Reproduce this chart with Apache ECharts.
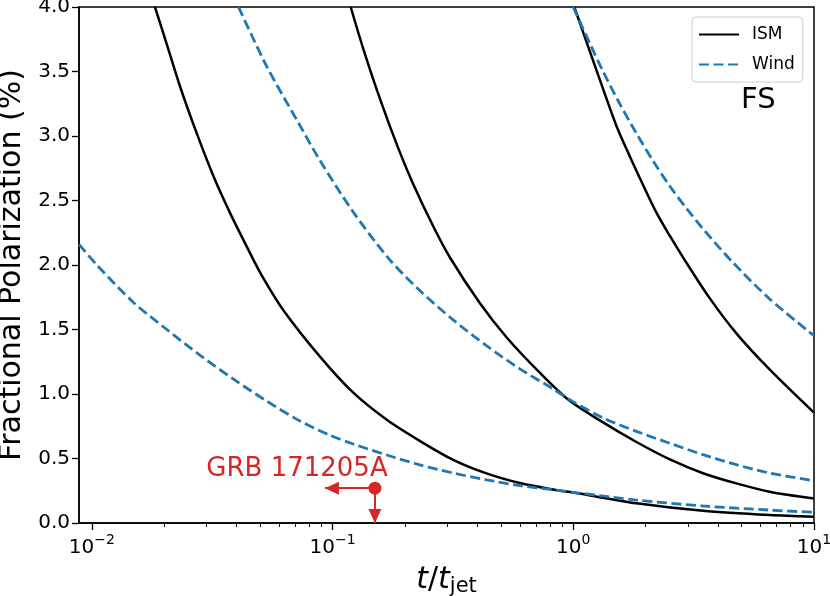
<!DOCTYPE html>
<html>
<head>
<meta charset="utf-8">
<script src="https://cdn.jsdelivr.net/npm/echarts@6/dist/echarts.min.js"></script>
<style>
html, body { margin: 0; padding: 0; background: #fff; }
#chart { width: 830px; height: 596px; }
</style>
</head>
<body>
<div id="chart"></div>
<script>
// curves: [t/t_jet, polarization %]
var ism1 = [[0.0183, 4.0], [0.0205, 3.71], [0.0233, 3.38], [0.0273, 3.02], [0.0320, 2.69],
    [0.0376, 2.40], [0.0441, 2.14], [0.0508, 1.92], [0.0625, 1.65], [0.0887, 1.29],
    [0.122, 1.01], [0.168, 0.80], [0.231, 0.635], [0.317, 0.49], [0.436, 0.385],
    [0.600, 0.31], [0.824, 0.26], [1.06, 0.228], [1.83, 0.153], [3.46, 0.095],
    [6.54, 0.062], [10, 0.049]];
var ism2 = [[0.119, 4.0], [0.134, 3.68], [0.158, 3.28], [0.188, 2.90], [0.216, 2.63],
    [0.262, 2.30], [0.307, 2.06], [0.409, 1.705], [0.528, 1.44], [0.726, 1.165],
    [0.967, 0.947], [1.33, 0.78], [1.83, 0.628], [2.52, 0.493], [3.46, 0.386],
    [4.76, 0.307], [6.54, 0.243], [10, 0.19]];
var ism3 = [[1.01, 4.0], [1.17, 3.66], [1.33, 3.365], [1.51, 3.08], [1.72, 2.84],
    [1.95, 2.62], [2.21, 2.41], [2.52, 2.225], [2.90, 2.04], [3.68, 1.745],
    [4.76, 1.47], [6.54, 1.19], [10, 0.855]];
var wind1 = [[0.00885, 2.16], [0.0105, 2.0], [0.0149, 1.71], [0.0205, 1.50], [0.0282, 1.30],
    [0.0388, 1.115], [0.0533, 0.945], [0.0733, 0.79], [0.0976, 0.68], [0.122, 0.612],
    [0.168, 0.527], [0.231, 0.45], [0.317, 0.387], [0.436, 0.335], [0.600, 0.29],
    [0.824, 0.257], [1.06, 0.232], [1.83, 0.178], [3.46, 0.132], [6.54, 0.10], [10, 0.083]];
var wind2 = [[0.0407, 4.0], [0.0533, 3.54], [0.0733, 3.08], [0.0887, 2.81], [0.122, 2.41],
    [0.173, 2.04], [0.231, 1.80], [0.317, 1.575], [0.436, 1.375], [0.600, 1.195],
    [0.824, 1.04], [0.967, 0.955], [1.33, 0.815], [1.83, 0.71], [2.52, 0.618],
    [3.46, 0.53], [4.76, 0.452], [6.54, 0.387], [10, 0.328]];
var wind3 = [[1.0, 4.0], [1.17, 3.72], [1.33, 3.50], [1.56, 3.25], [1.83, 3.02],
    [2.14, 2.81], [2.52, 2.61], [2.95, 2.44], [3.46, 2.28], [4.60, 2.02],
    [6.54, 1.737], [10, 1.452]];

// GRB 171205A upper limit
var grbPoint = [0.15, 0.27];
var grbLeftTip = [0.093, 0.27];
var grbDownTip = [0.15, 0];
var grbLabelAt = [0.0712, 0.42];

var xMajorTicks = [0.01, 0.1, 1, 10];
var xMinorTicks = [];
[0.01, 0.1, 1].forEach(function (d) {
    for (var k = 2; k <= 9; k++) xMinorTicks.push(+(k * d).toPrecision(3));
});

var FONT = 'DejaVu Sans';
var BLUE = '#1f77b4';
var RED = '#d62728';

var chart = echarts.init(document.getElementById('chart'));

function ismLine(data) {
    return {
        name: 'ISM', type: 'line', data: data, showSymbol: false, symbol: 'none',
        smooth: 0.3,
        lineStyle: {color: '#000', width: 2.5}, itemStyle: {color: '#000'},
        silent: true, z: 3
    };
}
function windLine(data) {
    return {
        name: 'Wind', type: 'line', data: data, showSymbol: false, symbol: 'none',
        smooth: 0.3,
        lineStyle: {color: BLUE, width: 2.8, type: [10, 4.5]}, itemStyle: {color: BLUE},
        silent: true, z: 3
    };
}
// arrow head for the upper limit, tip placed on the data point
function arrowHead(tip, rotate, offset) {
    return {
        name: 'grb-arrow', type: 'scatter', data: [tip],
        symbol: 'triangle', symbolSize: [13, 14], symbolRotate: rotate, symbolOffset: offset,
        itemStyle: {color: RED, opacity: 1}, clip: false, silent: true, z: 5
    };
}

function supLabel(v) {
    var e = Math.round(Math.log10(v));
    return '{b|10}{s|' + (e < 0 ? '\u2212' + (-e) : e) + '}';
}

option = {
    animation: false,
    backgroundColor: '#fff',
    textStyle: {fontFamily: FONT},
    grid: {
        left: 79, right: 16, top: 7, bottom: 73,
        containLabel: false, outerBoundsMode: 'none',
        show: true, borderColor: '#000', borderWidth: 1.5
    },
    legend: {
        data: ['ISM', 'Wind'],
        orient: 'vertical',
        left: 692, top: 17,
        padding: [9, 8, 9, 6],
        itemWidth: 40, itemHeight: 14, itemGap: 13,
        itemStyle: {opacity: 0},
        borderColor: '#cccccc', borderWidth: 1, borderRadius: 4,
        backgroundColor: 'rgba(255,255,255,0.8)',
        textStyle: {fontFamily: FONT, fontSize: 17, color: '#000', padding: [0, 0, 0, 8]},
        selectedMode: false
    },
    graphic: [{
        type: 'text', left: 741, top: 86,
        style: {text: 'FS', fontFamily: FONT, fontSize: 29, fill: '#000'}
    }],
    xAxis: [{
        type: 'log', min: 0.00885, max: 10, logBase: 10,
        name: '{i|t}{n|/}{i|t}{s|jet}',
        nameLocation: 'middle', nameGap: 40,
        nameTextStyle: {
            rich: {
                i: {fontFamily: FONT, fontSize: 30, fontStyle: 'italic', color: '#000', lineHeight: 34},
                n: {fontFamily: FONT, fontSize: 30, color: '#000', lineHeight: 34},
                s: {fontFamily: FONT, fontSize: 21, color: '#000', lineHeight: 21, verticalAlign: 'bottom'}
            }
        },
        axisLine: {show: true, lineStyle: {color: '#000', width: 1.5}},
        axisTick: {show: true, inside: false, length: 7, customValues: xMajorTicks, lineStyle: {color: '#000', width: 1.3}},
        axisLabel: {
            customValues: xMajorTicks, margin: 10,
            formatter: supLabel,
            rich: {
                b: {fontFamily: FONT, fontSize: 20, color: '#000', lineHeight: 30},
                s: {fontFamily: FONT, fontSize: 14, color: '#000', lineHeight: 16, verticalAlign: 'top'}
            }
        },
        splitLine: {show: false}, minorTick: {show: false}
    }, {
        type: 'log', min: 0.00885, max: 10, logBase: 10, position: 'bottom',
        axisLine: {show: false},
        axisTick: {show: true, inside: false, length: 4, customValues: xMinorTicks, lineStyle: {color: '#000', width: 1}},
        axisLabel: {show: false},
        splitLine: {show: false}
    }],
    yAxis: {
        type: 'value', min: 0, max: 4, interval: 0.5,
        name: 'Fractional Polarization (%)',
        nameLocation: 'middle', nameGap: 51,
        nameTextStyle: {fontFamily: FONT, fontSize: 30, color: '#000'},
        axisLine: {show: true, lineStyle: {color: '#000', width: 1.5}},
        axisTick: {show: true, inside: false, length: 7, lineStyle: {color: '#000', width: 1.3}},
        axisLabel: {
            margin: 9, fontFamily: FONT, fontSize: 20, color: '#000',
            formatter: function (v) { return v.toFixed(1); }
        },
        splitLine: {show: false}
    },
    series: [
        ismLine(ism1), ismLine(ism2), ismLine(ism3),
        windLine(wind1), windLine(wind2), windLine(wind3),
        {
            name: 'GRB 171205A', type: 'scatter', data: [grbPoint],
            symbol: 'circle', symbolSize: 13, itemStyle: {color: RED, opacity: 1},
            clip: false, silent: true, z: 6,
            markLine: {
                silent: true, animation: false,
                symbol: ['none', 'none'],
                lineStyle: {color: RED, width: 2, type: 'solid', opacity: 1},
                label: {show: false},
                emphasis: {disabled: true},
                data: [
                    [{coord: grbPoint}, {coord: grbLeftTip}],
                    [{coord: grbPoint}, {coord: grbDownTip}]
                ]
            }
        },
        arrowHead(grbLeftTip, 90, [7, 0]),
        arrowHead(grbDownTip, 180, [0, -7]),
        {
            name: 'grb-label', type: 'scatter', data: [grbLabelAt],
            symbolSize: 0, silent: true, clip: false, z: 5,
            itemStyle: {opacity: 1},
            label: {
                show: true, position: 'inside', formatter: 'GRB 171205A',
                fontFamily: FONT, fontSize: 26, color: RED
            }
        }
    ]
};

chart.setOption(option);
</script>
</body>
</html>
